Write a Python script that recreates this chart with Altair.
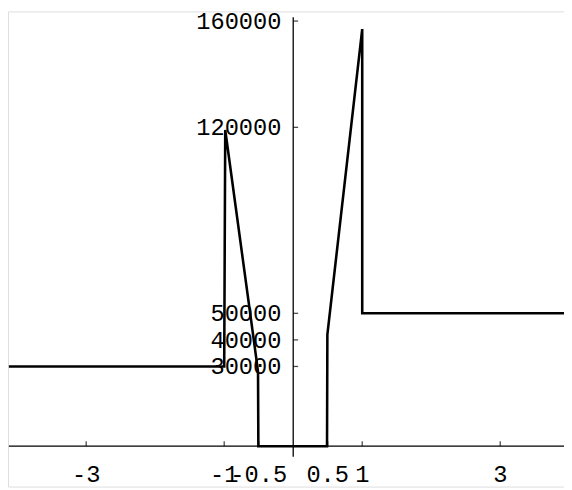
import altair as alt
import pandas as pd

# piecewise curve
curve_x = [-4.12, -1.0, -0.985, -0.54, -0.51, -0.505, 0.49, 0.495, 1.0, 1.0, 4.0]
curve_y = [30000, 30000, 119000, 34000, 28000, 0, 0, 42000, 157000, 50000, 50000]

x_ticks = [-3, -1, -0.5, 0.5, 1, 3]
x_tick_labels = ["-3", "-1", "-0.5", "0.5", "1", "3"]
y_ticks = [30000, 40000, 50000, 120000, 160000]
y_tick_labels = ["30000", "40000", "50000", "120000", "160000"]

x_domain = [-4.133, 3.924]
y_domain = [-15213, 163636]
x_axis_span = [-4.12, 4.0]
y_axis_span = [-4000, 161400]

FONT = "Liberation Mono"

xs = alt.Scale(domain=x_domain, nice=False, zero=False)
ys = alt.Scale(domain=y_domain, nice=False, zero=False)

curve = pd.DataFrame({"x": curve_x, "y": curve_y, "o": list(range(len(curve_x)))})

line = alt.Chart(curve).mark_line(color="black", strokeWidth=2.6, clip=True).encode(
    x=alt.X("x:Q", scale=xs, axis=None),
    y=alt.Y("y:Q", scale=ys, axis=None),
    order="o:Q",
)

xaxis = alt.Chart(pd.DataFrame({"x": [x_axis_span[0]], "x2": [x_axis_span[1]], "y": [0]})).mark_rule(
    color="black", strokeWidth=1.3, clip=True
).encode(x=alt.X("x:Q", scale=xs, axis=None), x2="x2:Q", y=alt.Y("y:Q", scale=ys, axis=None))

yaxis = alt.Chart(pd.DataFrame({"y": [y_axis_span[0]], "y2": [y_axis_span[1]], "x": [0]})).mark_rule(
    color="black", strokeWidth=1.3
).encode(y=alt.Y("y:Q", scale=ys, axis=None), y2="y2:Q", x=alt.X("x:Q", scale=xs, axis=None))

xt = pd.DataFrame({"x": x_ticks, "label": x_tick_labels, "y": [0] * len(x_ticks)})
yt = pd.DataFrame({"y": y_ticks, "label": y_tick_labels, "x": [0] * len(y_ticks)})

xtick_marks = alt.Chart(xt).mark_tick(orient="vertical", size=5, thickness=1.3, color="black", yOffset=-2.5).encode(
    x=alt.X("x:Q", scale=xs, axis=None), y=alt.Y("y:Q", scale=ys, axis=None)
)
ytick_marks = alt.Chart(yt).mark_tick(orient="horizontal", size=5, thickness=1.3, color="black", xOffset=2.5).encode(
    x=alt.X("x:Q", scale=xs, axis=None), y=alt.Y("y:Q", scale=ys, axis=None)
)

xlabels = alt.Chart(xt).mark_text(font=FONT, fontSize=24, align="center", baseline="alphabetic", dy=36, color="black").encode(
    x=alt.X("x:Q", scale=xs, axis=None), y=alt.Y("y:Q", scale=ys, axis=None), text="label:N"
)
ylabels = alt.Chart(yt).mark_text(font=FONT, fontSize=24, align="right", baseline="alphabetic", dx=-12, dy=8, color="black").encode(
    x=alt.X("x:Q", scale=xs, axis=None), y=alt.Y("y:Q", scale=ys, axis=None), text="label:N"
)

chart = alt.layer(xaxis, yaxis, xtick_marks, ytick_marks, xlabels, ylabels, line).properties(
    width=564, height=482, padding=0, autosize=alt.AutoSizeParams(type="none")
).configure_view(stroke=None).configure(background="white")

chart.save("out.html", embed_options={"renderer": "svg", "actions": False})
